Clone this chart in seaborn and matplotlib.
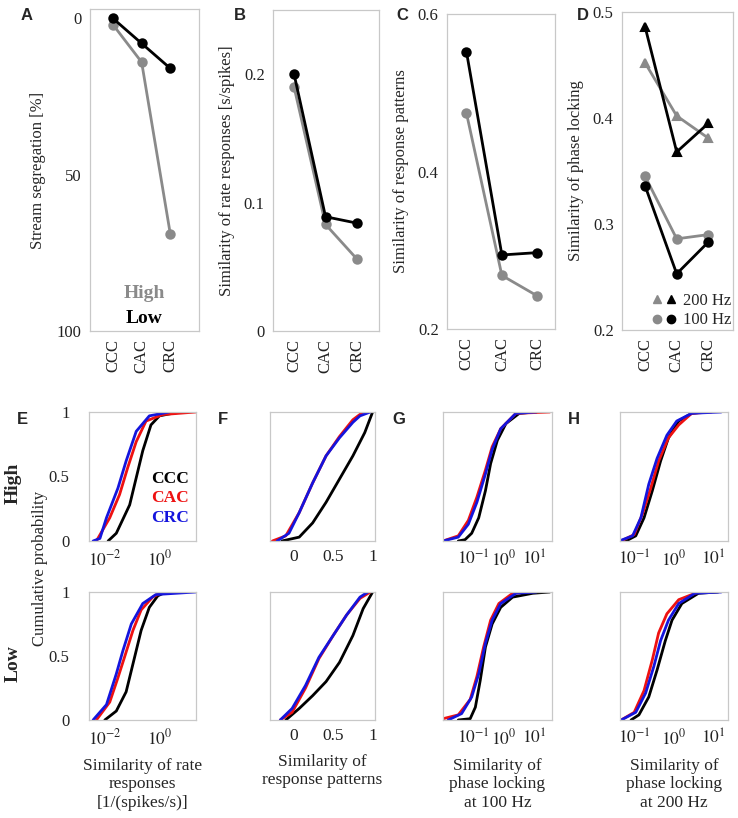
import numpy as np
import matplotlib
matplotlib.use("Agg")
import matplotlib.pyplot as plt
import seaborn as sns
from matplotlib.lines import Line2D
from matplotlib.legend_handler import HandlerTuple

# === 1. Data ===
conditions = ["CCC", "CAC", "CRC"]

seg_high = [2, 14, 69]
seg_low = [0, 8, 16]
rate_high = [0.190, 0.083, 0.056]
rate_low = [0.200, 0.089, 0.084]
pattern_high = [0.474, 0.268, 0.242]
pattern_low = [0.552, 0.294, 0.297]
pl200_high = [0.452, 0.402, 0.381]
pl200_low = [0.486, 0.368, 0.395]
pl100_high = [0.345, 0.286, 0.290]
pl100_low = [0.336, 0.253, 0.283]

# cumulative distributions: (x, cumulative probability) pairs
# E, G, H: x given as log10 of the similarity value
e_high_ccc = [(-1.90, 0), (-1.60, 0.06), (-1.11, 0.28), (-0.87, 0.49), (-0.63, 0.70), (-0.33, 0.90), (-0.02, 0.97), (0.46, 0.99), (0.82, 1.0)]
e_high_cac = [(-2.33, 0), (-1.84, 0.18), (-1.48, 0.36), (-1.18, 0.57), (-0.87, 0.77), (-0.51, 0.93), (0.10, 0.98), (1.31, 1.0)]
e_high_crc = [(-2.45, 0), (-2.20, 0.02), (-1.96, 0.18), (-1.54, 0.41), (-1.24, 0.62), (-0.87, 0.85), (-0.39, 0.97), (0.34, 1.0)]
e_low_ccc = [(-2.02, 0), (-1.60, 0.07), (-1.24, 0.22), (-0.93, 0.49), (-0.69, 0.70), (-0.39, 0.88), (-0.08, 0.97), (0.22, 1.0)]
e_low_cac = [(-2.33, 0), (-1.84, 0.14), (-1.54, 0.33), (-1.30, 0.49), (-0.99, 0.70), (-0.69, 0.86), (-0.27, 0.96), (0.10, 1.0)]
e_low_crc = [(-2.45, 0), (-1.96, 0.12), (-1.60, 0.36), (-1.36, 0.54), (-1.05, 0.75), (-0.63, 0.91), (-0.15, 0.98), (1.31, 1.0)]

f_high_ccc = [(-0.15, 0), (0.07, 0.03), (0.24, 0.14), (0.41, 0.30), (0.58, 0.48), (0.75, 0.66), (0.90, 0.84), (1.00, 1.0)]
f_high_cac = [(-0.27, 0), (-0.10, 0.04), (0.07, 0.22), (0.24, 0.45), (0.41, 0.66), (0.58, 0.81), (0.75, 0.94), (0.88, 1.0)]
f_high_crc = [(-0.21, 0), (-0.06, 0.06), (0.07, 0.22), (0.24, 0.45), (0.41, 0.66), (0.58, 0.80), (0.75, 0.92), (0.84, 0.97), (0.97, 1.0)]
f_low_ccc = [(-0.10, 0), (0.07, 0.09), (0.24, 0.19), (0.41, 0.30), (0.58, 0.45), (0.75, 0.66), (0.88, 0.87), (1.00, 1.0)]
f_low_cac = [(-0.17, 0), (-0.02, 0.06), (0.15, 0.25), (0.32, 0.48), (0.50, 0.66), (0.67, 0.82), (0.84, 0.95), (0.97, 1.0)]
f_low_crc = [(-0.17, 0), (-0.02, 0.09), (0.15, 0.27), (0.32, 0.49), (0.50, 0.66), (0.67, 0.82), (0.84, 0.96), (0.94, 1.0)]

g_high_ccc = [(-1.50, 0), (-1.28, 0.01), (-1.06, 0.06), (-0.83, 0.18), (-0.61, 0.39), (-0.44, 0.60), (-0.22, 0.78), (0.06, 0.91), (0.50, 0.99), (1.06, 1.0)]
g_high_cac = [(-2.00, 0), (-1.50, 0.04), (-1.17, 0.16), (-0.89, 0.34), (-0.61, 0.55), (-0.39, 0.73), (-0.11, 0.87), (0.39, 0.99), (1.50, 1.0)]
g_high_crc = [(-2.00, 0), (-1.50, 0.03), (-1.17, 0.13), (-0.89, 0.30), (-0.61, 0.52), (-0.39, 0.71), (-0.11, 0.87), (0.39, 0.99), (1.06, 1.0)]
g_low_ccc = [(-1.50, 0), (-1.11, 0.01), (-0.94, 0.10), (-0.78, 0.31), (-0.61, 0.57), (-0.39, 0.75), (-0.11, 0.88), (0.28, 0.96), (0.94, 0.99), (1.50, 1.0)]
g_low_cac = [(-2.00, 0.01), (-1.50, 0.04), (-1.11, 0.16), (-0.89, 0.34), (-0.67, 0.57), (-0.44, 0.78), (-0.17, 0.91), (0.28, 0.99), (0.83, 1.0)]
g_low_crc = [(-1.83, 0), (-1.39, 0.05), (-1.06, 0.18), (-0.83, 0.36), (-0.61, 0.60), (-0.39, 0.78), (-0.11, 0.91), (0.39, 0.99), (1.06, 1.0)]

h_high_ccc = [(-1.21, 0), (-0.96, 0.04), (-0.75, 0.18), (-0.54, 0.39), (-0.33, 0.62), (-0.13, 0.80), (0.13, 0.93), (0.46, 0.99), (0.79, 1.0)]
h_high_cac = [(-1.33, 0), (-1.00, 0.05), (-0.79, 0.21), (-0.58, 0.41), (-0.38, 0.62), (-0.13, 0.80), (0.13, 0.90), (0.46, 0.99), (0.96, 1.0)]
h_high_crc = [(-1.38, 0), (-1.04, 0.04), (-0.83, 0.18), (-0.63, 0.44), (-0.42, 0.64), (-0.17, 0.82), (0.08, 0.93), (0.46, 0.99), (1.21, 1.0)]
h_low_ccc = [(-1.08, 0), (-0.88, 0.04), (-0.63, 0.18), (-0.42, 0.39), (-0.21, 0.62), (-0.04, 0.78), (0.21, 0.91), (0.63, 0.99), (1.13, 1.0)]
h_low_cac = [(-1.33, 0), (-1.00, 0.06), (-0.75, 0.23), (-0.54, 0.47), (-0.38, 0.68), (-0.17, 0.83), (0.13, 0.94), (0.63, 1.0)]
h_low_crc = [(-1.33, 0), (-0.96, 0.06), (-0.71, 0.21), (-0.50, 0.42), (-0.33, 0.62), (-0.13, 0.78), (0.13, 0.91), (0.54, 0.99), (1.21, 1.0)]

# === 2. Style ===
sns.set_theme(style="white")
plt.rcParams['font.family'] = ['Liberation Serif', 'DejaVu Serif']
plt.rcParams['mathtext.fontset'] = 'stix'

GRAY = '#8a8a8a'
BLACK = '#000000'
RED = '#ee1111'
BLUE = '#1414dd'
FRAME = '#c8c8c8'
FS = 12

W, H = 738, 818
fig = plt.figure(figsize=(W / 100, H / 100), dpi=100)


def px_axes(x0, y0, x1, y1):
    # axes from pixel box (left, top, right, bottom)
    return fig.add_axes([x0 / W, 1 - y1 / H, (x1 - x0) / W, (y1 - y0) / H])


def frame(ax, size=FS):
    for s in ax.spines.values():
        s.set_color(FRAME)
        s.set_linewidth(0.9)
    ax.tick_params(direction='out', length=3, width=0.8, color=FRAME,
                   labelsize=size, labelcolor='#222222', pad=3)
    ax.minorticks_off()


def letter(x, y, s):
    fig.text(x / W, 1 - y / H, s, fontsize=12, fontweight='bold',
             family='Liberation Sans', ha='left', va='center')


# === 3. Top row: condition means ===
def mean_panel(ax, high, low, marker='o'):
    sns.pointplot(x=conditions, y=high, color=GRAY, markers=marker,
                  markersize=6, linewidth=2, ax=ax)
    sns.pointplot(x=conditions, y=low, color=BLACK, markers=marker,
                  markersize=6, linewidth=2, ax=ax)


axA = px_axes(90, 9, 199, 331)
mean_panel(axA, seg_high, seg_low)
axA.set_ylim(100, -3)
axA.set_xlim(-0.8, 3.0)
axA.set_yticks([0, 50, 100])
axA.set_yticklabels(['0', '50', '100'])
axA.set_ylabel('Stream segregation [%]', fontsize=FS, labelpad=8)
axA.text(0.5, 0.115, 'High', transform=axA.transAxes, color=GRAY,
         fontsize=14, fontweight='bold', ha='center', va='center')
axA.text(0.5, 0.04, 'Low', transform=axA.transAxes, color=BLACK,
         fontsize=14, fontweight='bold', ha='center', va='center')

axB = px_axes(273, 10, 379, 331)
mean_panel(axB, rate_high, rate_low)
axB.set_ylim(0, 0.25)
axB.set_xlim(-0.67, 2.7)
axB.set_yticks([0, 0.1, 0.2])
axB.set_yticklabels(['0', '0.1', '0.2'])
axB.set_ylabel('Similarity of rate responses [s/spikes]', fontsize=FS, labelpad=6)

axC = px_axes(447, 14, 555, 329)
mean_panel(axC, pattern_high, pattern_low)
axC.set_ylim(0.2, 0.6)
axC.set_xlim(-0.55, 2.5)
axC.set_yticks([0.2, 0.4, 0.6])
axC.set_yticklabels(['0.2', '0.4', '0.6'])
axC.set_ylabel('Similarity of response patterns', fontsize=FS, labelpad=6)

axD = px_axes(622, 12, 733, 330)
mean_panel(axD, pl200_high, pl200_low, marker='^')
mean_panel(axD, pl100_high, pl100_low, marker='o')
axD.set_ylim(0.2, 0.5)
axD.set_xlim(-0.73, 2.78)
axD.set_yticks([0.2, 0.3, 0.4, 0.5])
axD.set_yticklabels(['0.2', '0.3', '0.4', '0.5'])
axD.set_ylabel('Similarity of phase locking', fontsize=FS, labelpad=6)
h200 = (Line2D([], [], ls='', marker='^', color=GRAY, ms=6),
        Line2D([], [], ls='', marker='^', color=BLACK, ms=6))
h100 = (Line2D([], [], ls='', marker='o', color=GRAY, ms=6),
        Line2D([], [], ls='', marker='o', color=BLACK, ms=6))
axD.legend([h200, h100], ['200 Hz', '100 Hz'], loc='lower right',
           handler_map={tuple: HandlerTuple(ndivide=None, pad=0.2)},
           frameon=False, fontsize=FS, handlelength=1.5, handletextpad=0.4,
           labelspacing=0.2, borderaxespad=0.0, borderpad=0.1)

for ax in (axA, axB, axC, axD):
    frame(ax)
    ax.set_xlabel('')
    ax.tick_params(axis='x', labelrotation=90)

letter(21, 15, 'A')
letter(234, 15, 'B')
letter(396, 15, 'C')
letter(577, 15, 'D')

# === 4. Bottom rows: cumulative distributions ===
cols = [(89, 196), (270, 375), (443, 552), (620, 728)]
rows = [(412, 541), (592, 720)]
curves = {
    'E': [(e_high_ccc, e_high_cac, e_high_crc), (e_low_ccc, e_low_cac, e_low_crc)],
    'F': [(f_high_ccc, f_high_cac, f_high_crc), (f_low_ccc, f_low_cac, f_low_crc)],
    'G': [(g_high_ccc, g_high_cac, g_high_crc), (g_low_ccc, g_low_cac, g_low_crc)],
    'H': [(h_high_ccc, h_high_cac, h_high_crc), (h_low_ccc, h_low_cac, h_low_crc)],
}
log_panel = {'E': True, 'F': False, 'G': True, 'H': True}
xlims = {'E': (10 ** -2.6, 10 ** 1.32), 'F': (-0.3, 1.03),
         'G': (10 ** -2.0, 10 ** 1.57), 'H': (10 ** -1.36, 10 ** 1.38)}
xticks = {'E': ([1e-2, 1e0], [r'$10^{-2}$', r'$10^{0}$']),
          'F': ([0, 0.5, 1], ['0', '0.5', '1']),
          'G': ([1e-1, 1e0, 1e1], [r'$10^{-1}$', r'$10^{0}$', r'$10^{1}$']),
          'H': ([1e-1, 1e0, 1e1], [r'$10^{-1}$', r'$10^{0}$', r'$10^{1}$'])}
xlabels = {'E': 'Similarity of rate\nresponses\n[1/(spikes/s)]',
           'F': 'Similarity of\nresponse patterns',
           'G': 'Similarity of\nphase locking\nat 100 Hz',
           'H': 'Similarity of\nphase locking\nat 200 Hz'}

for ci, key in enumerate(['E', 'F', 'G', 'H']):
    for ri in range(2):
        x0, x1 = cols[ci]
        y0, y1 = rows[ri]
        ax = px_axes(x0, y0, x1, y1)
        for pts, col in zip(curves[key][ri], [BLACK, RED, BLUE]):
            xs = np.array([p[0] for p in pts])
            ps = [p[1] for p in pts]
            if log_panel[key]:
                xs = 10 ** xs
            sns.lineplot(x=xs, y=ps, sort=False, estimator=None, color=col,
                         linewidth=2, ax=ax)
        if log_panel[key]:
            ax.set_xscale('log')
        ax.set_xlim(*xlims[key])
        ax.set_ylim(0, 1.0)
        ax.set_xticks(xticks[key][0])
        ax.set_xticklabels(xticks[key][1])
        ax.set_yticks([0, 0.5, 1])
        frame(ax, size=12.5)
        if key == 'E':
            ax.set_yticklabels(['0', '0.5', '1'])
            ax.tick_params(axis='y', pad=11, labelsize=12)
        else:
            ax.set_yticklabels([])
        if ri == 1:
            ax.set_xlabel(xlabels[key], fontsize=12.5, linespacing=1.2, labelpad=7)
        if key == 'E' and ri == 0:
            ax.text(0.58, 0.48, 'CCC', transform=ax.transAxes, color=BLACK,
                    fontsize=12.5, fontweight='bold', va='center')
            ax.text(0.58, 0.33, 'CAC', transform=ax.transAxes, color=RED,
                    fontsize=12.5, fontweight='bold', va='center')
            ax.text(0.58, 0.18, 'CRC', transform=ax.transAxes, color=BLUE,
                    fontsize=12.5, fontweight='bold', va='center')

letter(17, 420, 'E')
letter(218, 420, 'F')
letter(392, 420, 'G')
letter(568, 420, 'H')

fig.text(40 / W, 1 - 568 / H, 'Cumulative probability', rotation=90,
         fontsize=12, ha='center', va='center')
fig.text(13 / W, 1 - 483 / H, 'High', rotation=90, fontsize=14,
         fontweight='bold', ha='center', va='center')
fig.text(13 / W, 1 - 664 / H, 'Low', rotation=90, fontsize=14,
         fontweight='bold', ha='center', va='center')

fig.savefig('out.png', dpi=100)
